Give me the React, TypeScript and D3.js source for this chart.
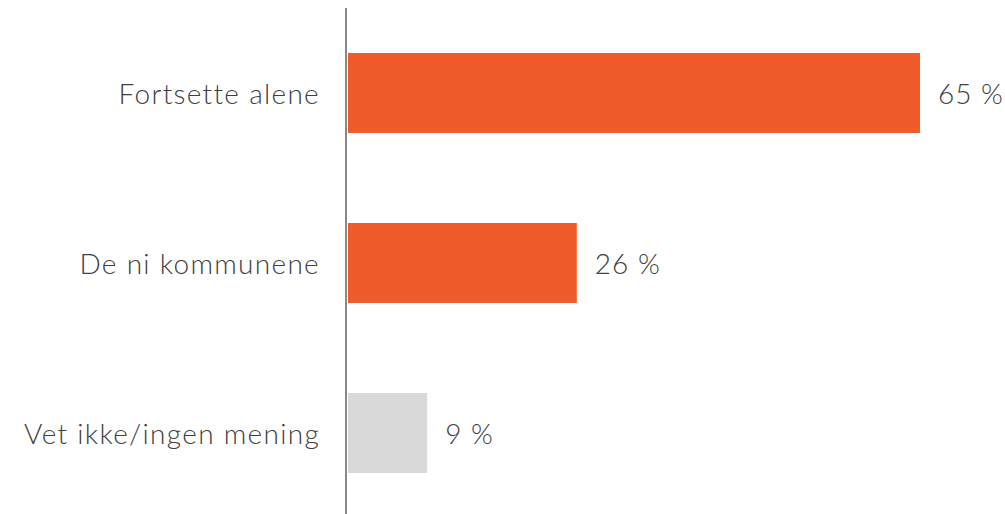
import React from "react";
import * as d3 from "d3";

const categories = ["Fortsette alene", "De ni kommunene", "Vet ikke/ingen mening"];
const values = [65, 26, 9];
const valueLabels = ["65 %", "26 %", "9 %"];
const barColors = ["#F15A29", "#F15A29", "#D9D9D9"];

const W = 1005;
const H = 514;

export default function App() {
  const x = d3.scaleLinear().domain([0, 65]).range([348, 920]);
  const y = d3
    .scaleBand<string>()
    .domain(categories)
    .range([8, 518])
    .paddingInner(90 / 170)
    .paddingOuter(0.2647);
  const font = "Lato, 'Open Sans', sans-serif";
  return (
    <svg
      width={W}
      height={H}
      style={{ position: "absolute", left: 0, top: 0, background: "#fff" }}
    >
      {categories.map((c, i) => {
        const y0 = y(c)!;
        const bw = y.bandwidth();
        return (
          <g key={c}>
            <rect
              x={x(0)}
              y={y0}
              width={x(values[i]) - x(0)}
              height={bw}
              fill={barColors[i]}
            />
            <text
              x={320}
              y={y0 + bw / 2}
              textAnchor="end"
              dominantBaseline="central"
              fontFamily={font}
              fontWeight={300}
              fontSize={28}
              letterSpacing={1.3}
              fill="#404040"
            >
              {c}
            </text>
            <text
              x={x(values[i]) + 18}
              y={y0 + bw / 2}
              dominantBaseline="central"
              fontFamily={font}
              fontWeight={300}
              fontSize={28}
              letterSpacing={1}
              fill="#404040"
            >
              {valueLabels[i]}
            </text>
          </g>
        );
      })}
      <line x1={346} x2={346} y1={8} y2={514} stroke="#898989" strokeWidth={2} />
    </svg>
  );
}
